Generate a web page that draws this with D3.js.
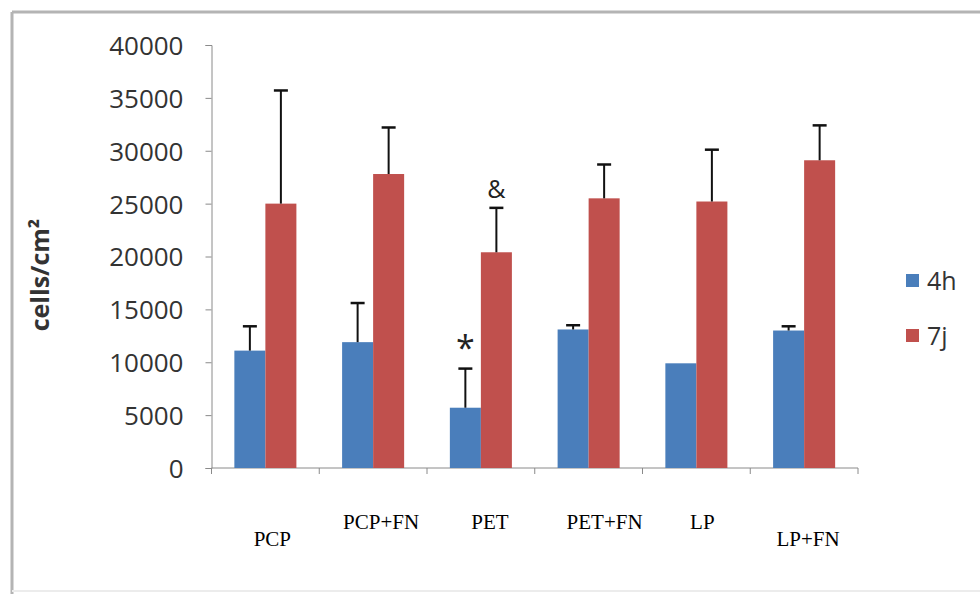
<!DOCTYPE html>
<html>
<head>
<meta charset="utf-8">
<script src="https://cdn.jsdelivr.net/npm/d3@7"></script>
<style>
  body { margin: 0; background: #fff; }
  svg { display: block; }
</style>
</head>
<body>
<div id="chart"></div>
<script>
// chart data
var groups = ["PCP", "PCP+FN", "PET", "PET+FN", "LP", "LP+FN"];
var series = ["4h", "7j"];
var values4h = [11100, 11900, 5700, 13100, 9900, 13000];
var values7j = [25000, 27800, 20400, 25500, 25200, 29100];
var err4h = [2300, 3700, 3700, 400, 0, 400];
var err7j = [10700, 4400, 4200, 3200, 4900, 3300];
var yTicks = [0, 5000, 10000, 15000, 20000, 25000, 30000, 35000, 40000];
// significance marks: group, series, symbol
var marks = [{ g: "PET", s: "4h", text: "*" }, { g: "PET", s: "7j", text: "&" }];

var width = 980, height = 594;
var colors = { "4h": "#4A7EBB", "7j": "#C0504D" };

var svg = d3.select("#chart").append("svg").attr("width", width).attr("height", height);

// outer frame (top and left visible, bottom faint)
svg.append("line").attr("x1", 12).attr("x2", 980).attr("y1", 12).attr("y2", 12)
    .attr("stroke", "#b4b4b4").attr("stroke-width", 3);
svg.append("line").attr("x1", 12).attr("x2", 12).attr("y1", 12).attr("y2", 594)
    .attr("stroke", "#b4b4b4").attr("stroke-width", 3);
svg.append("line").attr("x1", 12).attr("x2", 980).attr("y1", 591).attr("y2", 591)
    .attr("stroke", "#ececec").attr("stroke-width", 2);

// scales
var x = d3.scaleBand().domain(groups).range([211.5, 858]).paddingInner(0).paddingOuter(0);
var xs = d3.scaleBand().domain(series).range([0, x.bandwidth()]).paddingInner(0).paddingOuter(0.737);
var y = d3.scaleLinear().domain([0, 40000]).range([468, 45]);

// build rows from arrays
var rows = [];
groups.forEach(function(g, i) {
    rows.push({ g: g, s: "4h", v: values4h[i], e: err4h[i] });
    rows.push({ g: g, s: "7j", v: values7j[i], e: err7j[i] });
});

// y axis
var yAxis = svg.append("g").attr("transform", "translate(211.5,0)")
    .call(d3.axisLeft(y).tickValues(yTicks).tickFormat(d3.format("d")).tickSize(6).tickPadding(22));
yAxis.select(".domain").attr("stroke", "#8a8a8a");
yAxis.selectAll(".tick line").attr("stroke", "#8a8a8a");
yAxis.selectAll("text").attr("fill", "#333").style("font-family", "'Open Sans', sans-serif")
    .style("font-size", "26px").attr("dy", "0.36em");

// x axis line + ticks at group boundaries
var xAxis = svg.append("g").attr("transform", "translate(0,468)");
xAxis.append("line").attr("x1", 211.5).attr("x2", 858).attr("stroke", "#8a8a8a");
xAxis.selectAll("line.tk").data(groups.concat(["end"])).enter().append("line")
    .attr("class", "tk")
    .attr("x1", function(d, i) { return 211.5 + i * x.step(); })
    .attr("x2", function(d, i) { return 211.5 + i * x.step(); })
    .attr("y1", 0).attr("y2", 6).attr("stroke", "#8a8a8a");

// bars
svg.selectAll("rect.bar").data(rows).enter().append("rect")
    .attr("class", "bar")
    .attr("x", function(d) { return x(d.g) + xs(d.s); })
    .attr("y", function(d) { return y(d.v); })
    .attr("width", xs.bandwidth())
    .attr("height", function(d) { return y(0) - y(d.v); })
    .attr("fill", function(d) { return colors[d.s]; });

// error bars (upper only)
var eb = svg.selectAll("g.err").data(rows.filter(function(d) { return d.e > 0; })).enter().append("g")
    .attr("class", "err");
eb.append("line")
    .attr("x1", function(d) { return x(d.g) + xs(d.s) + xs.bandwidth() / 2; })
    .attr("x2", function(d) { return x(d.g) + xs(d.s) + xs.bandwidth() / 2; })
    .attr("y1", function(d) { return y(d.v); })
    .attr("y2", function(d) { return y(d.v + d.e); })
    .attr("stroke", "#111").attr("stroke-width", 2);
eb.append("line")
    .attr("x1", function(d) { return x(d.g) + xs(d.s) + xs.bandwidth() / 2 - 7; })
    .attr("x2", function(d) { return x(d.g) + xs(d.s) + xs.bandwidth() / 2 + 7; })
    .attr("y1", function(d) { return y(d.v + d.e); })
    .attr("y2", function(d) { return y(d.v + d.e); })
    .attr("stroke", "#111").attr("stroke-width", 2.5);

// significance symbols
svg.selectAll("text.mark").data(marks).enter().append("text")
    .attr("class", "mark")
    .attr("x", function(d) { return x(d.g) + xs(d.s) + xs.bandwidth() / 2; })
    .attr("y", function(d) {
        var r = rows.find(function(o) { return o.g === d.g && o.s === d.s; });
        return y(r.v + r.e) - (d.text === "*" ? 9 : 10);
    })
    .attr("text-anchor", "middle")
    .attr("fill", "#222")
    .style("font-family", "'Open Sans', sans-serif")
    .style("font-size", function(d) { return d.text === "*" ? "34px" : "25px"; })
    .text(function(d) { return d.text; });

// category labels (hand placed text boxes in the original, two rows)
var labelDx = [7, 8, 9, 16, 6, 4];
var labelRow = [1, 0, 0, 0, 0, 1];
svg.selectAll("text.cat").data(groups).enter().append("text")
    .attr("class", "cat")
    .attr("x", function(d, i) { return x(d) + x.bandwidth() / 2 + labelDx[i]; })
    .attr("y", function(d, i) { return 529 + labelRow[i] * 17; })
    .attr("text-anchor", "middle")
    .attr("fill", "#000")
    .style("font-family", "'Liberation Serif', 'Times New Roman', serif")
    .style("font-size", "21px")
    .text(function(d) { return d; });

// y axis title
svg.append("text")
    .attr("transform", "translate(49,275) rotate(-90)")
    .attr("text-anchor", "middle")
    .attr("fill", "#333")
    .style("font-family", "'Open Sans', sans-serif")
    .style("font-size", "25px")
    .style("font-weight", "bold")
    .text("cells/cm²");

// legend
var legend = svg.selectAll("g.leg").data(series).enter().append("g")
    .attr("class", "leg")
    .attr("transform", function(d, i) { return "translate(906," + (274 + i * 55) + ")"; });
legend.append("rect").attr("width", 13).attr("height", 13)
    .attr("fill", function(d) { return colors[d]; });
legend.append("text").attr("x", 21).attr("y", 16)
    .attr("fill", "#333")
    .style("font-family", "'Open Sans', sans-serif")
    .style("font-size", "25px")
    .text(function(d) { return d; });
</script>
</body>
</html>
